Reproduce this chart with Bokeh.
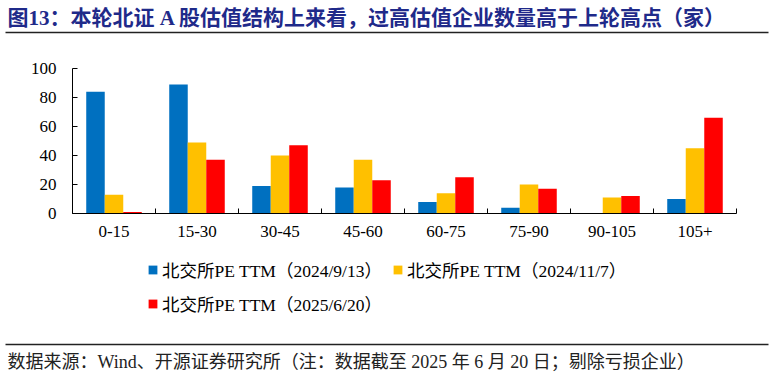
import numpy as np
from bokeh.plotting import figure
from bokeh.models import (Range1d, LinearAxis, FixedTicker, Legend, LegendItem,
                          Label, BoxAnnotation, ColumnDataSource)
from bokeh.embed import file_html
from bokeh.resources import INLINE

# ---------------- data ----------------
categories = ["0-15", "15-30", "30-45", "45-60", "60-75", "75-90", "90-105", "105+"]
pe_2024_09_13 = [84, 89, 19, 18, 8, 4, 0, 10]
pe_2024_11_07 = [13, 49, 40, 37, 14, 20, 11, 45]
pe_2025_06_20 = [1, 37, 47, 23, 25, 17, 12, 66]
series_names = ["北交所PE TTM（2024/9/13）", "北交所PE TTM（2024/11/7）", "北交所PE TTM（2025/6/20）"]
y_ticks = [0, 20, 40, 60, 80, 100]
y_max = 100
title_text = "图13：本轮北证 A 股估值结构上来看，过高估值企业数量高于上轮高点（家）"
source_text = "数据来源：Wind、开源证券研究所（注：数据截至 2025 年 6 月 20 日；剔除亏损企业）"

# ---------------- layout / style ----------------
colors = ["#0070C0", "#FFC000", "#FF0000"]
LATIN = "Liberation Serif"
MIX = "Liberation Serif, Noto Sans CJK SC"

W, H = 774, 374
n = len(categories)
# plot area in canvas pixels
PX_L, PX_R = 72.0, 736.0     # left / right of category axis
PY_B, PY_T = 213.0, 68.0     # y=0 / y=100 rows
kx = (PX_R - PX_L) / n
ky = (PY_B - PY_T) / y_max

p = figure(width=W, height=H, output_backend="svg", toolbar_location=None,
           x_range=Range1d(-PX_L / kx, (W - PX_L) / kx),
           y_range=Range1d(-(H - PY_B) / ky, PY_B / ky),
           x_axis_type=None, y_axis_type=None,
           min_border=0, min_border_left=0, min_border_right=0,
           min_border_top=0, min_border_bottom=0,
           background_fill_color="white", border_fill_color="white")
p.outline_line_color = None
p.grid.visible = False

centers = np.arange(n) + 0.5
bw = 0.223
offsets = [-bw, 0.0, bw]
src = ColumnDataSource(dict(
    x0=centers + offsets[0], x1=centers + offsets[1], x2=centers + offsets[2],
    s0=pe_2024_09_13, s1=pe_2024_11_07, s2=pe_2025_06_20))

renderers = []
for i in range(3):
    r = p.vbar(x=f"x{i}", top=f"s{i}", bottom=0, width=bw, source=src,
               fill_color=colors[i], line_color=None)
    renderers.append(r)

# axes (floating, anchored at the data origin)
yaxis = LinearAxis(ticker=FixedTicker(ticks=y_ticks, minor_ticks=[]),
                   fixed_location=0, bounds=(0, y_max))
yaxis.major_tick_in = 5
yaxis.major_tick_out = 0
yaxis.minor_tick_line_color = None
yaxis.major_label_standoff = 16
yaxis.major_label_text_font = LATIN
yaxis.major_label_text_font_size = "17px"
yaxis.major_label_text_color = "black"
yaxis.axis_line_color = "black"
yaxis.major_tick_line_color = "black"
p.add_layout(yaxis, "left")

xaxis = LinearAxis(ticker=FixedTicker(ticks=list(centers), minor_ticks=list(range(n + 1))),
                   fixed_location=0, bounds=(0, n))
xaxis.major_label_overrides = {float(c): lab for c, lab in zip(centers, categories)}
xaxis.major_tick_line_color = None
xaxis.major_tick_in = 0
xaxis.major_tick_out = 0
xaxis.minor_tick_in = 5
xaxis.minor_tick_out = 0
xaxis.minor_tick_line_color = "black"
xaxis.major_label_standoff = 12
xaxis.major_label_text_font = LATIN
xaxis.major_label_text_font_size = "17px"
xaxis.major_label_text_color = "black"
xaxis.axis_line_color = "black"
p.add_layout(xaxis, "below")

# legends (screen coords, origin bottom-left of canvas)
leg_pos = [(147, 92), (392, 92), (147, 58)]
for i in range(3):
    lg = Legend(items=[LegendItem(label=series_names[i], renderers=[renderers[i]])],
                location=leg_pos[i], orientation="horizontal",
                padding=0, margin=0, spacing=0, border_line_color=None,
                background_fill_alpha=0, glyph_width=11, glyph_height=11,
                label_standoff=4, label_height=11,
                label_text_font=MIX, label_text_font_size="17.5px",
                label_text_color="black")
    p.add_layout(lg, "center")

# title + rule
p.add_layout(Label(x=7, y=H - 17, x_units="screen", y_units="screen", text=title_text,
                   text_font=MIX, text_font_style="bold", text_font_size="21px",
                   text_color="#1F2A8A", text_baseline="middle", text_align="left"))
p.add_layout(BoxAnnotation(left=5, right=768, bottom=H - 32.75, top=H - 31.25,
                           left_units="screen", right_units="screen",
                           bottom_units="screen", top_units="screen",
                           fill_color="#222222", fill_alpha=1, line_color=None))
# source rule + text
p.add_layout(BoxAnnotation(left=5, right=768, bottom=H - 344.75, top=H - 343.25,
                           left_units="screen", right_units="screen",
                           bottom_units="screen", top_units="screen",
                           fill_color="#222222", fill_alpha=1, line_color=None))
p.add_layout(Label(x=7, y=H - 361, x_units="screen", y_units="screen", text=source_text,
                   text_font=MIX, text_font_size="18px",
                   text_color="#222222", text_baseline="middle", text_align="left"))

open("out.html", "w").write(file_html(p, INLINE))
